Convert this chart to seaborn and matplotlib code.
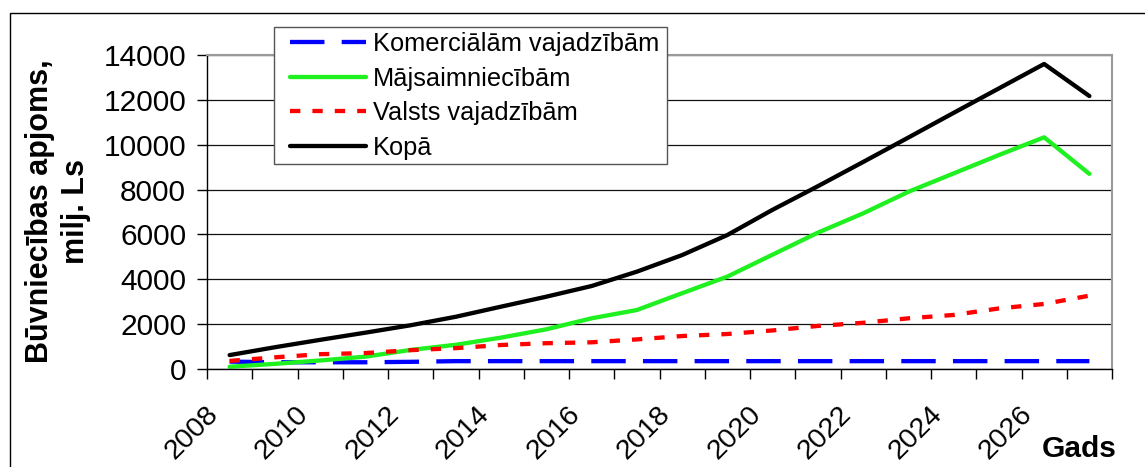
import matplotlib
matplotlib.use("Agg")
import matplotlib.pyplot as plt
import matplotlib.transforms as mtransforms
from matplotlib.patches import Rectangle
import numpy as np
import pandas as pd
import seaborn as sns

# Construction volume by purpose, million Ls
years = list(range(2008, 2028))
komercialam = [330, 300, 300, 300, 320, 350, 350, 350, 350, 350,
               350, 350, 350, 350, 350, 350, 350, 350, 350, 350]
majsaimniecibam = [100, 230, 380, 550, 850, 1080, 1400, 1770, 2260, 2630,
                   3380, 4120, 5100, 6080, 6940, 7900, 8720, 9540, 10330, 8700]
valsts = [360, 520, 660, 710, 840, 930, 1070, 1150, 1190, 1320,
          1470, 1560, 1720, 1920, 2060, 2260, 2410, 2700, 2900, 3270]
kopa = [620, 970, 1300, 1620, 1950, 2330, 2780, 3225, 3700, 4340,
        5080, 5975, 7100, 8150, 9230, 10320, 11420, 12510, 13600, 12170]

series_names = ["Komerciālām vajadzībām", "Mājsaimniecībām",
                "Valsts vajadzībām", "Kopā"]
y_ticks = [0, 2000, 4000, 6000, 8000, 10000, 12000, 14000]

sns.set_theme(style="white")
plt.rcParams["font.family"] = ["Liberation Sans", "DejaVu Sans"]
plt.rcParams["text.color"] = "black"
plt.rcParams["xtick.color"] = "black"
plt.rcParams["ytick.color"] = "black"
plt.rcParams["axes.labelcolor"] = "black"

idx = np.arange(len(years))
frames = []
for name, vals in zip(series_names, [komercialam, majsaimniecibam, valsts, kopa]):
    frames.append(pd.DataFrame({"idx": idx, "value": vals, "series": name}))
df = pd.concat(frames, ignore_index=True)

palette = {
    "Komerciālām vajadzībām": "#0000ff",
    "Mājsaimniecībām": "#1ff01f",
    "Valsts vajadzībām": "#ff0000",
    "Kopā": "#000000",
}
dashes = {
    "Komerciālām vajadzībām": (8.0, 4.0),
    "Mājsaimniecībām": "",
    "Valsts vajadzībām": (2.4, 2.8),
    "Kopā": "",
}

W, H = 1145, 467
fig = plt.figure(figsize=(W / 100, H / 100), dpi=100)
ax = fig.add_axes([207 / W, 1 - 369 / H, 905 / W, 314 / H])

sns.lineplot(data=df, x="idx", y="value", hue="series", style="series",
             hue_order=series_names, style_order=series_names,
             palette=palette, dashes=dashes, linewidth=3.1,
             sort=False, ax=ax)

# Outer chart frame
fig.patches.append(Rectangle((9.5 / W, -0.2), 1.5, 1 - 13 / H + 0.2,
                             transform=fig.transFigure, fill=False,
                             edgecolor="black", linewidth=1.0, zorder=0))

ax.set_xlim(-0.5, len(years) - 0.5)
ax.set_ylim(0, 14000)
ax.set_yticks(y_ticks)
ax.set_yticklabels([str(v) for v in y_ticks], fontsize=21.5)
ax.grid(axis="y", color="#111111", linewidth=0.9)
ax.grid(axis="x", visible=False)
ax.set_axisbelow(True)

# Category boundaries carry the tick marks; every second year is labelled
tick_pos = np.arange(len(years) + 1) - 0.5
tick_lab = [str(years[0] + i) if (i % 2 == 0 and i < len(years)) else ""
            for i in range(len(years) + 1)]
ax.set_xticks(tick_pos)
ax.set_xticklabels(tick_lab, fontsize=20.5, rotation=45, ha="right",
                   rotation_mode="anchor", va="center")
ax.tick_params(axis="x", direction="out", length=7, width=1, color="black",
               pad=23, bottom=True)
ax.tick_params(axis="y", direction="out", length=7, width=1, color="black",
               pad=8, left=True)
offset = mtransforms.ScaledTranslation(7 / 100, 0, fig.dpi_scale_trans)
for lab in ax.get_xticklabels():
    lab.set_transform(lab.get_transform() + offset)

ax.set_xlabel("")
ax.set_ylabel("")
for side in ["left", "bottom"]:
    ax.spines[side].set_color("black")
    ax.spines[side].set_linewidth(1.0)
for side in ["top", "right"]:
    ax.spines[side].set_color("#9a9a9a")
    ax.spines[side].set_linewidth(1.5)

fig.text(58 / W, 1 - 211 / H, "Būvniecības apjoms,\nmilj. Ls",
         rotation=90, ha="center", va="center", multialignment="center",
         fontsize=22, fontweight="bold", linespacing=1.25)
fig.text(1079 / W, 1 - 457 / H, "Gads", ha="center", va="baseline",
         fontsize=21.5, fontweight="bold")

# Legend: white box drawn over the plot, entries placed inside it
fig.patches.append(Rectangle((274 / W, 1 - 164 / H), (667 - 274) / W,
                             (164 - 27) / H, transform=fig.transFigure,
                             facecolor="white", edgecolor="#555555",
                             linewidth=1.0, zorder=5))
handles, labels = ax.get_legend_handles_labels()
if ax.get_legend() is not None:
    ax.get_legend().remove()
leg = fig.legend(handles, labels, loc="upper left",
                 bbox_to_anchor=(290 / W, 1 - 32 / H),
                 fontsize=18.3, frameon=False,
                 handlelength=3.0, handletextpad=0.25, labelspacing=0.42,
                 borderpad=0.0, borderaxespad=0)
leg.set_zorder(6)

fig.savefig("out.png", dpi=100)
